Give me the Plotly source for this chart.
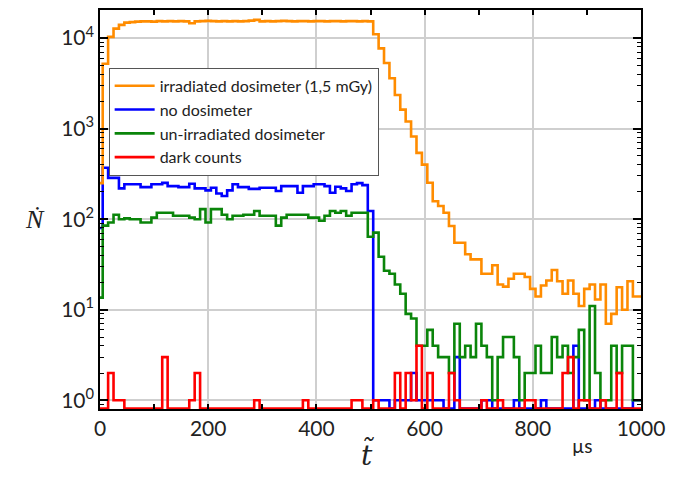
import numpy as np
import plotly.graph_objects as go

# bin centres (µs), 10 µs bins
t_centres = list(range(0, 1001, 10))

irradiated = [250, 5200, 10300, 12700, 14000, 14800,
              15000, 15200, 15300, 15300, 15200, 15400, 15300, 15400, 15300, 15400,
              15300, 14600, 15300, 15400, 15500, 15400, 15300, 15400, 15300, 15400,
              15300, 15400, 15600, 15900, 15300, 15400, 15300, 15400, 15500, 15400,
              15300, 15400, 15400, 15300, 15400, 15400, 15300, 15400, 15400, 15300,
              15400, 15400, 15300, 15400, 15300,
              11000, 7700, 5300, 3600, 2350, 1620, 1200, 820, 540, 400,
              253, 158, 140, 118, 84, 55, 55, 41, 36, 36,
              25, 25, 31, 19, 18, 22, 25, 25, 23, 17,
              14, 18.5, 21, 27.5, 20.6, 15, 21, 15, 11, 17,
              19, 13, 19, 7, 9, 17.7, 10, 20.6, 14, 14]

no_dosimeter = [80, 370, 286, 286, 219, 243, 243, 243, 226, 226,
                243, 243, 252, 232, 232, 226, 226, 246, 219, 219,
                208, 222, 192, 180, 208, 243, 226, 226, 216, 216,
                222, 222, 222, 205, 232, 232, 232, 196, 232, 232,
                243, 243, 232, 196, 228, 219, 205, 243, 250, 238,
                123, 1, 1, 1, 0, 1, 1, 1, 2, 1,
                1, 1, 1, 1, 0, 0, 3, 0, 0, 0,
                0, 1, 1, 0, 0, 0, 0, 1, 0, 0,
                0, 0, 1, 0, 0, 0, 0, 0, 4, 0,
                0, 0, 1, 0, 0, 0, 0, 0, 0, 1, 1]

unirradiated = [13.6, 85, 92, 112, 100, 102, 100, 100, 92, 92,
                104, 118, 118, 118, 109, 109, 109, 104, 100, 129,
                92, 129, 129, 112, 100, 109, 109, 112, 112, 123,
                109, 109, 109, 85, 104, 112, 112, 112, 112, 104,
                104, 96, 109, 123, 118, 123, 109, 118, 118, 118,
                64, 71, 38.5, 27, 25, 19, 15, 9, 8, 4,
                4, 6, 4, 3, 3, 2, 7, 3, 4, 3,
                7, 4, 3, 1, 3, 5, 5, 3, 1, 2,
                2, 4, 2, 2, 5, 3, 4, 2, 3, 6,
                1, 11, 2, 1, 1, 4, 2, 4, 4, 1, 1]

dark_counts = [0, 0, 2, 1, 1, 0, 0, 0, 0, 0,
               0, 0, 3, 0, 0, 0, 0, 1, 2, 0,
               0, 0, 0, 0, 0, 0, 0, 0, 0, 1,
               0, 0, 0, 0, 0, 0, 0, 0, 1, 0,
               0, 0, 0, 0, 0, 0, 0, 1, 1, 0,
               0, 1, 0, 0, 0, 2, 0, 2, 1, 4,
               0, 2, 0, 0, 0, 2, 1, 0, 0, 0,
               0, 1, 0, 0, 1, 0, 0, 0, 0, 1,
               1, 0, 0, 0, 0, 0, 2, 3, 0, 1,
               1, 0, 0, 1, 0, 0, 2, 0, 0, 0, 0]

x_ticks = [0, 200, 400, 600, 800, 1000]
y_ticks = [1, 10, 100, 1000, 10000]
y_tick_text = ["10<sup>0</sup>", "10<sup>1</sup>", "10<sup>2</sup>",
               "10<sup>3</sup>", "10<sup>4</sup>"]

FLOOR = 0.81  # zero counts drawn on the lower frame of the log axis


def floor(v):
    a = np.array(v, dtype=float)
    return np.where(a > 0, a, FLOOR)


series = [
    ("no dosimeter", no_dosimeter, "#0000FF", 2),
    ("un-irradiated dosimeter", unirradiated, "#0A850A", 3),
    ("dark counts", dark_counts, "#FF0000", 4),
    ("irradiated dosimeter (1,5 mGy)", irradiated, "#FF8C00", 1),
]

fig = go.Figure()
for name, vals, col, rank in series:
    fig.add_trace(go.Scatter(
        x=t_centres, y=floor(vals), mode="lines", name=name,
        line=dict(color=col, width=2.6, shape="hvh"),
        legendrank=rank,
    ))

FONT = "Lato"
fig.update_layout(
    width=673, height=477,
    margin=dict(l=100, r=29, t=8, b=68),
    paper_bgcolor="white", plot_bgcolor="white",
    showlegend=True,
    legend=dict(
        x=0.016, y=0.855, xanchor="left", yanchor="top",
        bgcolor="white", bordercolor="#555555", borderwidth=1,
        font=dict(family=FONT, size=16, color="#222222"),
        tracegroupgap=0, itemwidth=40,
    ),
    xaxis=dict(
        range=[0, 1000], tickvals=x_ticks, ticks="inside", ticklen=5,
        tickwidth=1.5, tickcolor="black",
        showline=True, linecolor="black", linewidth=1.5, mirror="ticks",
        showgrid=True, gridcolor="#cfcfcf", gridwidth=1.5, zeroline=False,
        tickfont=dict(family=FONT, size=21, color="#222222"),
        minor=dict(dtick=100, tick0=0, ticks="inside", ticklen=5,
                   tickcolor="black", tickwidth=1.5, showgrid=False),
    ),
    yaxis=dict(
        type="log", range=[-0.096, 4.31],
        tickvals=y_ticks, ticktext=y_tick_text,
        ticks="inside", ticklen=8, tickwidth=1.5, tickcolor="black",
        showline=True, linecolor="black", linewidth=1.5, mirror="ticks",
        showgrid=True, gridcolor="#cfcfcf", gridwidth=1.5, zeroline=False,
        tickfont=dict(family=FONT, size=21, color="#222222"),
        minor=dict(dtick="D1", ticks="inside", ticklen=4, tickcolor="black",
                   tickwidth=1.2, showgrid=False),
    ),
)

fig.add_annotation(text="<i>Ṅ</i>", xref="paper", yref="paper",
                   x=-0.12, y=0.476, xanchor="center", yanchor="middle",
                   showarrow=False,
                   font=dict(family="Liberation Serif", size=26, color="#222222"))
fig.add_annotation(text="<i>t\u0303</i>", xref="paper", yref="paper",
                   x=0.496, y=-0.115, xanchor="center", yanchor="middle",
                   showarrow=False,
                   font=dict(family="DejaVu Serif", size=28, color="#222222"))
fig.add_annotation(text="µs", xref="paper", yref="paper",
                   x=0.891, y=-0.092, xanchor="center", yanchor="middle",
                   showarrow=False,
                   font=dict(family=FONT, size=19, color="#222222"))

fig.write_html("out.html")
